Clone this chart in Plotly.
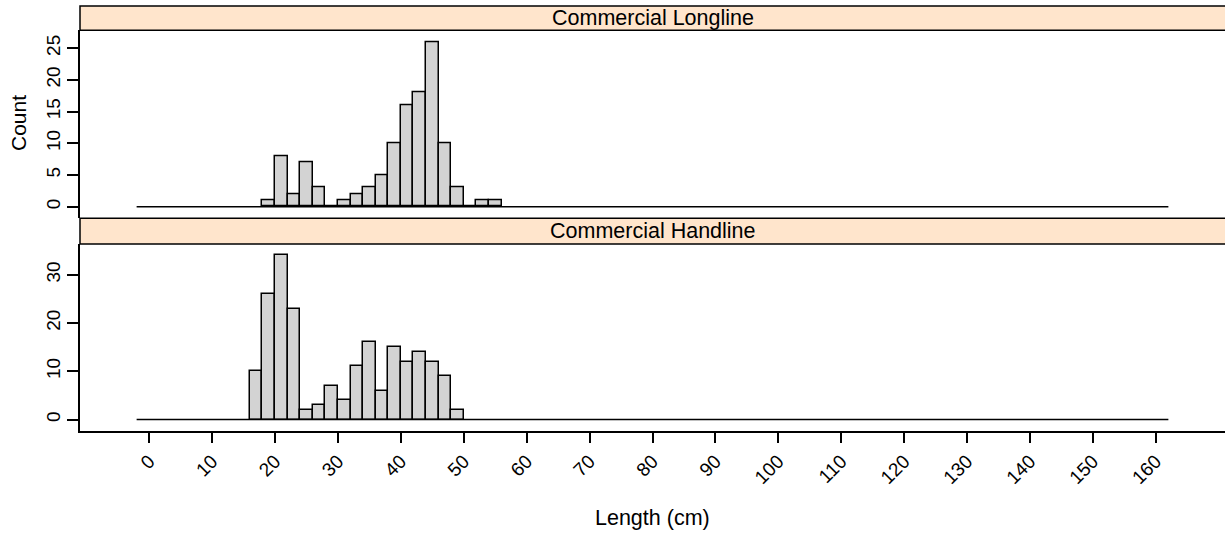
import plotly.graph_objects as go

# ---------------- data ----------------
BIN_WIDTH = 2
BREAK_MIN = -2
BREAK_MAX = 162

PANELS = ["Commercial Longline", "Commercial Handline"]

LONGLINE_BIN_LOWER = [18, 20, 22, 24, 26, 28, 30, 32, 34, 36, 38, 40, 42, 44, 46, 48, 50, 52, 54]
LONGLINE_COUNTS = [1, 8, 2, 7, 3, 0, 1, 2, 3, 5, 10, 16, 18, 26, 10, 3, 0, 1, 1]

HANDLINE_BIN_LOWER = [16, 18, 20, 22, 24, 26, 28, 30, 32, 34, 36, 38, 40, 42, 44, 46, 48]
HANDLINE_COUNTS = [10, 26, 34, 23, 2, 3, 7, 4, 11, 16, 6, 15, 12, 14, 12, 9, 2]

X_TICKS = list(range(0, 161, 10))
LONGLINE_Y_TICKS = [0, 5, 10, 15, 20, 25]
HANDLINE_Y_TICKS = [0, 10, 20, 30]

X_LABEL = "Length (cm)"
Y_LABEL = "Count"

# ---------------- styling ----------------
FONT = "Liberation Sans, Arial, sans-serif"
BAR_FILL = "#D3D3D3"
STRIP_FILL = "#FFE5CC"
LINE = "#000000"
LW = 1.5

W, H = 1225, 535
M_L, M_R, M_T, M_B = 80, 0, 6, 104
plot_h = H - M_T - M_B


def py(px):
    """pixel row (from top) -> paper y fraction"""
    return (H - M_B - px) / plot_h


strip_top_1, panel_top_1 = 6, 30.3
strip_top_2, panel_top_2 = 218.3, 244

top_domain = [py(strip_top_2), py(panel_top_1)]
bot_domain = [0, py(panel_top_2)]


def pad(lo, hi, f=0.07):
    d = (hi - lo) * f
    return [lo - d, hi + d]


fig = go.Figure()

series = [
    (LONGLINE_BIN_LOWER, LONGLINE_COUNTS, "x2", "y2"),
    (HANDLINE_BIN_LOWER, HANDLINE_COUNTS, "x", "y"),
]
for lowers, counts, xa, ya in series:
    # baseline spanning all (zero-count) bins
    fig.add_trace(go.Scatter(
        x=[BREAK_MIN, BREAK_MAX], y=[0, 0], mode="lines",
        line=dict(color=LINE, width=LW), xaxis=xa, yaxis=ya,
        hoverinfo="skip", showlegend=False,
    ))
    fig.add_trace(go.Bar(
        x=[l + BIN_WIDTH / 2 for l in lowers], y=counts, width=BIN_WIDTH,
        marker=dict(color=BAR_FILL, line=dict(color=LINE, width=LW)),
        xaxis=xa, yaxis=ya, showlegend=False,
    ))

x_range = [-11.0, 171.0]
tickfont = dict(family=FONT, size=19, color="#000000")

fig.update_layout(
    width=W, height=H,
    margin=dict(l=M_L, r=M_R, t=M_T, b=M_B),
    paper_bgcolor="white", plot_bgcolor="white",
    bargap=0, showlegend=False,
    font=dict(family=FONT, color="#000000"),
    xaxis=dict(
        domain=[0, 1], range=x_range, anchor="y",
        tickmode="array", tickvals=X_TICKS, ticktext=[str(v) for v in X_TICKS],
        tickangle=-45, ticks="outside", ticklen=10, tickwidth=LW, tickcolor=LINE,
        showline=True, linecolor=LINE, linewidth=LW,
        showgrid=False, zeroline=False, tickfont=tickfont,
    ),
    xaxis2=dict(
        domain=[0, 1], range=x_range, anchor="y2", matches="x",
        showticklabels=False, ticks="", showline=False,
        showgrid=False, zeroline=False,
    ),
    yaxis=dict(
        domain=bot_domain, range=pad(0, max(HANDLINE_COUNTS)), anchor="x",
        tickmode="array", tickvals=HANDLINE_Y_TICKS,
        ticktext=[str(v) for v in HANDLINE_Y_TICKS],
        tickangle=-90, ticks="outside", ticklen=11, tickwidth=LW, tickcolor=LINE,
        showline=True, linecolor=LINE, linewidth=LW,
        showgrid=False, zeroline=False, tickfont=tickfont,
    ),
    yaxis2=dict(
        domain=top_domain, range=pad(0, max(LONGLINE_COUNTS)), anchor="x2",
        tickmode="array", tickvals=LONGLINE_Y_TICKS,
        ticktext=[str(v) for v in LONGLINE_Y_TICKS],
        tickangle=-90, ticks="outside", ticklen=11, tickwidth=LW, tickcolor=LINE,
        showline=True, linecolor=LINE, linewidth=LW,
        showgrid=False, zeroline=False, tickfont=tickfont,
    ),
)

# strips
strips = [
    (PANELS[0], py(strip_top_1), py(panel_top_1)),
    (PANELS[1], py(strip_top_2), py(panel_top_2)),
]
for label, y_hi, y_lo in strips:
    fig.add_shape(type="rect", xref="paper", yref="paper",
                  x0=0, x1=1.01, y0=y_lo, y1=y_hi,
                  fillcolor=STRIP_FILL, line=dict(color=LINE, width=LW),
                  layer="above")
    fig.add_annotation(text=label, xref="paper", yref="paper",
                       x=0.5, y=(y_lo + y_hi) / 2, xanchor="center", yanchor="middle",
                       showarrow=False, font=dict(family=FONT, size=21.5, color="#000000"))

# axis titles
fig.add_annotation(text=X_LABEL, xref="paper", yref="paper",
                   x=0.5, y=py(518), xanchor="center", yanchor="middle",
                   showarrow=False, font=dict(family=FONT, size=21.5, color="#000000"))
fig.add_annotation(text=Y_LABEL, xref="paper", yref="paper",
                   x=(19 - M_L) / (W - M_L - M_R), y=py(123),
                   xanchor="center", yanchor="middle", textangle=-90,
                   showarrow=False, font=dict(family=FONT, size=21, color="#000000"))

fig.write_html(
    "out.html",
    config={"displayModeBar": False},
    post_script="document.body.style.margin='0px';document.body.style.overflow='hidden';",
)
